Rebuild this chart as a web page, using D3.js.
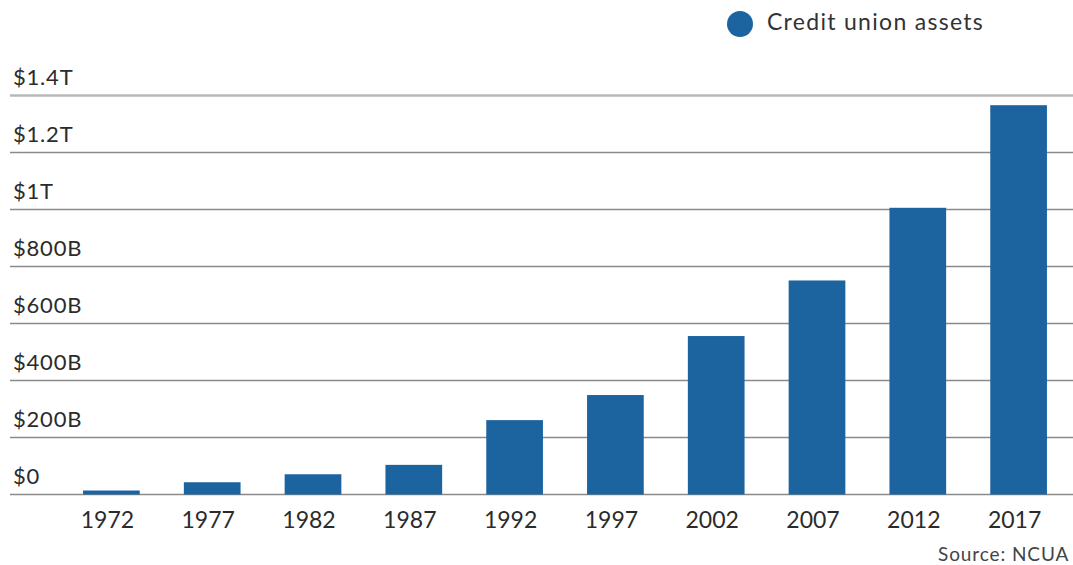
<!DOCTYPE html>
<html>
<head>
<meta charset="utf-8">
<script src="https://cdn.jsdelivr.net/npm/d3@7"></script>
<style>
  body { margin: 0; background: #fff; overflow: hidden; }
  svg { display: block; font-family: Lato, "DejaVu Sans", sans-serif; }
</style>
</head>
<body>
<svg></svg>
<script>
let years = ['1972', '1977', '1982', '1987', '1992', '1997', '2002', '2007', '2012', '2017']
// credit union assets, billions of dollars
let assets = [14, 43, 71, 104, 261, 349, 556, 751, 1006, 1366]
let tickValues = [0, 200, 400, 600, 800, 1000, 1200, 1400]
let tickLabels = ['$0', '$200B', '$400B', '$600B', '$800B', '$1T', '$1.2T', '$1.4T']

let w = 1073
let h = 565
let barColor = '#1b64a0'

let svg = d3.select('svg')
    .attr('width', w)
    .attr('height', h)

let x = d3.scaleBand()
    .domain(years)
    .range([61, 1069])
    .paddingInner(0.4375)
    .paddingOuter(0.21875)

let y = d3.scaleLinear()
    .domain([0, 1400])
    .range([494.5, 95.5])

// gridlines
svg.append('g')
    .selectAll('line')
    .data(tickValues)
    .enter()
    .append('line')
    .attr('x1', 10)
    .attr('x2', w)
    .attr('y1', (d) => y(d))
    .attr('y2', (d) => y(d))
    .attr('stroke', (d) => d == 1400 ? '#b8b8b8' : '#8a8a8a')
    .attr('stroke-width', (d) => d == 1400 ? 2.5 : 1.6)

// y tick labels above each gridline
svg.append('g')
    .selectAll('text')
    .data(tickValues)
    .enter()
    .append('text')
    .attr('x', 13)
    .attr('y', (d) => y(d) - 11)
    .attr('font-size', '22px')
    .attr('letter-spacing', '0.8px')
    .attr('fill', '#2b2b2b')
    .text((d, i) => tickLabels[i])

// bars
svg.append('g')
    .selectAll('rect')
    .data(assets)
    .enter()
    .append('rect')
    .attr('x', (d, i) => x(years[i]))
    .attr('y', (d) => y(d))
    .attr('width', x.bandwidth())
    .attr('height', (d) => y(0) - y(d))
    .attr('fill', barColor)

// x axis labels
let xAxis = d3.axisBottom(x).tickSize(0).tickPadding(0)
let gx = svg.append('g')
    .attr('transform', 'translate(-4,' + 528 + ')')
    .call(xAxis)
gx.select('.domain').remove()
gx.selectAll('text')
    .attr('dy', 0)
    .attr('font-family', 'Lato, "DejaVu Sans", sans-serif')
    .attr('font-size', '23px')
    .attr('fill', '#2b2b2b')

// legend
svg.append('circle')
    .attr('cx', 740)
    .attr('cy', 24)
    .attr('r', 13)
    .attr('fill', barColor)
svg.append('text')
    .attr('x', 767)
    .attr('y', 30)
    .attr('font-size', '23px')
    .attr('letter-spacing', '1.3px')
    .attr('fill', '#333')
    .text('Credit union assets')

// source
svg.append('text')
    .attr('x', 938)
    .attr('y', 561)
    .attr('font-size', '19px')
    .attr('letter-spacing', '0.9px')
    .attr('fill', '#444')
    .text('Source: NCUA')
</script>
</body>
</html>
